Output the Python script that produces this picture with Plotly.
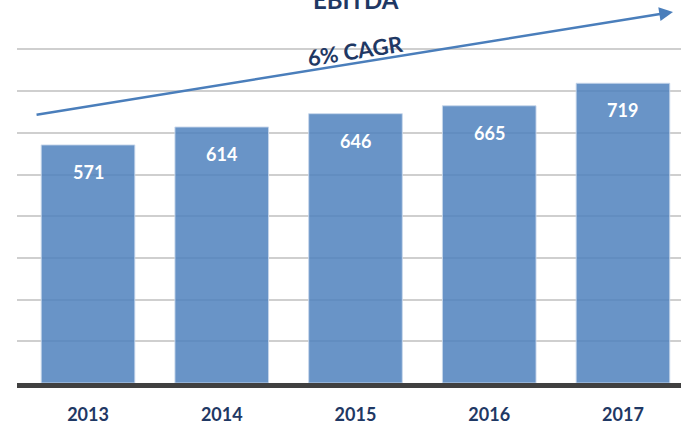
import plotly.graph_objects as go

years = ["2013", "2014", "2015", "2016", "2017"]
ebitda = [571, 614, 646, 665, 719]
grid_vals = [100, 200, 300, 400, 500, 600, 700, 800]
title_text = "EBITDA"
cagr_text = "6% CAGR"

dark_blue = "#1f3864"
font_family = "Lato, Open Sans, sans-serif"

fig = go.Figure()
fig.add_trace(go.Bar(
    x=list(range(len(years))), y=ebitda,
    width=0.70,
    marker=dict(color="rgba(79,129,189,0.85)",
                line=dict(color="rgba(200,215,235,0.9)", width=1)),
    hoverinfo="skip",
))

for i, v in enumerate(ebitda):
    fig.add_annotation(x=i, y=v, text=f"<b>{v}</b>", showarrow=False,
                       yanchor="middle", yshift=-27,
                       font=dict(family=font_family, size=18, color="white"))

# CAGR arrow
fig.add_annotation(x=4.374, y=890, ax=-0.396, ay=643, xref="x", yref="y",
                   axref="x", ayref="y", text="", showarrow=True,
                   arrowhead=2, arrowsize=1.1, arrowwidth=2.5,
                   arrowcolor="#4a7ebb")
fig.add_annotation(x=2.0, y=(383 - 50) / 0.4169, xref="x", yref="y",
                   text=f"<b>{cagr_text}</b>", showarrow=False, textangle=-9,
                   font=dict(family=font_family, size=22, color=dark_blue))

fig.add_annotation(x=0.51, y=1, xref="paper", yref="paper",
                   text=f"<b>{title_text}</b>", showarrow=False,
                   yanchor="middle", yshift=1,
                   font=dict(family=font_family, size=24, color=dark_blue))

fig.update_layout(
    width=681, height=425,
    margin=dict(l=17, r=0, t=0, b=42),
    plot_bgcolor="white", paper_bgcolor="white",
    showlegend=False,
    bargap=0.3,
)
fig.update_xaxes(
    range=[-0.531, 4.434],
    tickmode="array", tickvals=list(range(len(years))), ticktext=[f"<b>{y}</b>" for y in years],
    tickfont=dict(family=font_family, size=18, color=dark_blue),
    showgrid=False, showline=True, linewidth=5, linecolor="#404040",
    ticks="", ticklabelstandoff=11,
)
fig.update_yaxes(
    range=[0, 918.7], tickmode="array", tickvals=grid_vals,
    showticklabels=False, showgrid=True, gridcolor="#cfcfcf", gridwidth=1.5,
    zeroline=False, layer="above traces",
)

fig.write_html("out.html",
               config={"displayModeBar": False},
               post_script="document.body.style.margin='0';document.body.style.overflow='hidden';")
